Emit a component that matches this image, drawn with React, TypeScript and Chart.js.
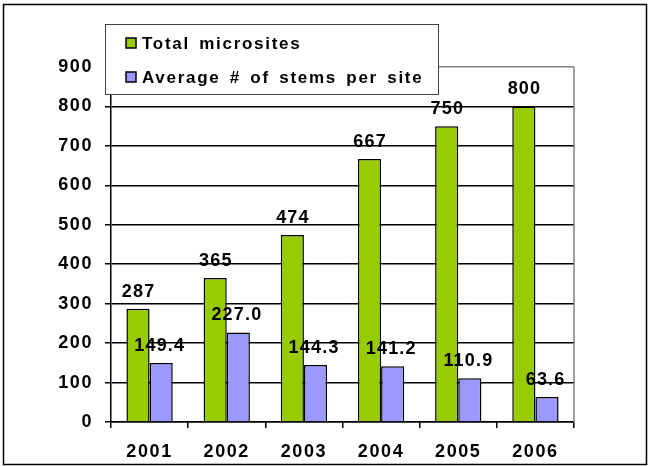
import React, { useEffect, useRef } from "react";
import { Chart, registerables } from "chart.js";

Chart.register(...registerables);

const years = ["2001", "2002", "2003", "2004", "2005", "2006"];
const totalMicrosites = [287, 365, 474, 667, 750, 800];
const avgStemsPerSite = [149.4, 227.0, 144.3, 141.2, 110.9, 63.6];
const seriesNames = ["Total microsites", "Average # of stems per site"];
const seriesColors = ["#99CC00", "#9999FF"];
const yMin = 0;
const yMax = 900;
const yStep = 100;

const FONT = "'Liberation Sans', Arial, Helvetica, sans-serif";

const decorPlugin = {
  id: "decor",
  beforeDraw(chart: any) {
    const ctx = chart.ctx;
    ctx.save();
    ctx.fillStyle = "#ffffff";
    ctx.fillRect(0, 0, chart.width, chart.height);
    ctx.strokeStyle = "#000000";
    ctx.lineWidth = 1.5;
    ctx.strokeRect(3.5, 4.5, 643, 460);
    ctx.restore();
    ctx.letterSpacing = "1.6px";
  },
  afterDatasetsDraw(chart: any) {
    const ctx = chart.ctx;
    ctx.save();
    ctx.font = `bold 18px ${FONT}`;
    ctx.letterSpacing = "1.2px";
    ctx.fillStyle = "#000000";
    ctx.textAlign = "center";
    ctx.textBaseline = "middle";
    chart.data.datasets.forEach((ds: any, i: number) => {
      const meta = chart.getDatasetMeta(i);
      meta.data.forEach((bar: any, j: number) => {
        const v = ds.data[j];
        const txt = i === 0 ? String(v) : Number(v).toFixed(1);
        const dx = i === 0 ? 0 : -2;
        ctx.fillText(txt, bar.x + dx + 0.6, bar.y - 17);
      });
    });
    ctx.restore();
  },
  afterDraw(chart: any) {
    const ctx = chart.ctx;
    const a = chart.chartArea;
    ctx.save();
    // grey right border of plot area
    ctx.strokeStyle = "#808080";
    ctx.lineWidth = 1.5;
    ctx.beginPath();
    ctx.moveTo(a.right, a.top);
    ctx.lineTo(a.right, a.bottom);
    ctx.stroke();

    // legend box
    const lx = 105, ly = 24, lw = 333, lh = 70;
    ctx.fillStyle = "#ffffff";
    ctx.fillRect(lx, ly, lw, lh);
    ctx.strokeStyle = "#404040";
    ctx.lineWidth = 1;
    ctx.strokeRect(lx + 0.5, ly + 0.5, lw, lh);

    ctx.font = `bold 17px ${FONT}`;
    ctx.letterSpacing = "1.7px";
    ctx.wordSpacing = "3px";
    ctx.textAlign = "left";
    ctx.textBaseline = "middle";
    seriesNames.forEach((name, i) => {
      const cy = 43 + i * 34;
      ctx.fillStyle = seriesColors[i];
      ctx.fillRect(126, cy - 5, 10, 10);
      ctx.strokeStyle = "#000000";
      ctx.lineWidth = 1.5;
      ctx.strokeRect(126, cy - 5, 10, 10);
      ctx.fillStyle = "#000000";
      ctx.fillText(name, 142, cy + 1);
    });
    ctx.restore();
  },
};

export default function App() {
  const ref = useRef<HTMLCanvasElement | null>(null);

  useEffect(() => {
    if (!ref.current) return;
    const chart = new Chart(ref.current, {
      type: "bar",
      data: {
        labels: years,
        datasets: [
          {
            label: seriesNames[0],
            data: totalMicrosites,
            backgroundColor: seriesColors[0],
            borderColor: "#000000",
            borderWidth: 1.5,
            categoryPercentage: 0.6,
            barPercentage: 1.0,
          },
          {
            label: seriesNames[1],
            data: avgStemsPerSite,
            backgroundColor: seriesColors[1],
            borderColor: "#000000",
            borderWidth: 1.5,
            categoryPercentage: 0.6,
            barPercentage: 1.0,
          },
        ],
      },
      options: {
        responsive: false,
        animation: false,
        devicePixelRatio: 1,
        layout: { padding: { left: 0, right: 76, top: 67, bottom: 0 } },
        plugins: {
          legend: { display: false },
          tooltip: { enabled: false },
          title: { display: false },
        },
        scales: {
          x: {
            afterFit: (s: any) => {
              s.height = 44;
            },
            grid: {
              display: true,
              drawOnChartArea: false,
              drawTicks: true,
              tickLength: 6,
              color: "#000000",
              lineWidth: 1.5,
              offset: true,
            },
            border: { display: true, color: "#000000", width: 1.5 },
            ticks: {
              color: "#000000",
              font: { family: FONT, size: 18, weight: "bold" },
              padding: 13,
              maxRotation: 0,
            },
          },
          y: {
            min: yMin,
            max: yMax,
            afterFit: (s: any) => {
              s.width = 111;
            },
            grid: {
              color: (c: any) => (c.tick && c.tick.value === yMax ? "#808080" : "#000000"),
              lineWidth: 1.5,
              drawTicks: true,
              tickLength: 6,
            },
            border: { display: true, color: "#000000", width: 1.5 },
            ticks: {
              stepSize: yStep,
              color: "#000000",
              font: { family: FONT, size: 18, weight: "bold" },
              padding: 12,
            },
          },
        },
      },
      plugins: [decorPlugin],
    });
    return () => chart.destroy();
  }, []);

  return (
    <div style={{ position: "absolute", left: 0, top: 0, width: 650, height: 466, background: "#fff" }}>
      <canvas ref={ref} width={650} height={466} style={{ display: "block" }} />
    </div>
  );
}
